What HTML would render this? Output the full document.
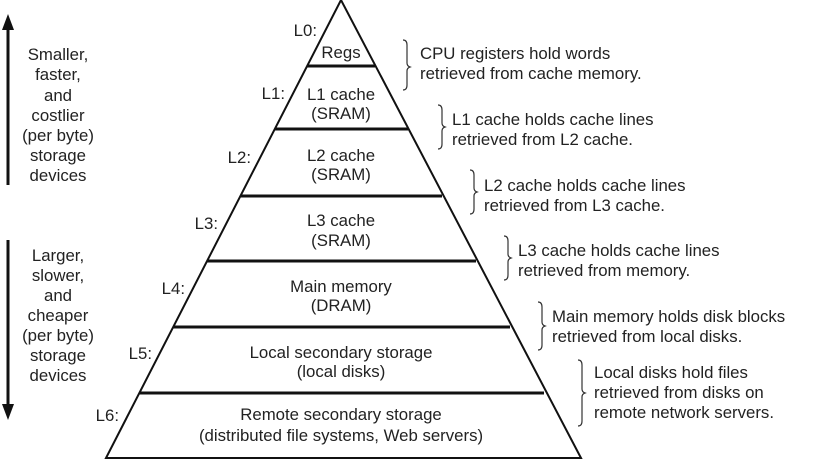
<!DOCTYPE html>
<html><head><meta charset="utf-8"><style>
html,body{margin:0;padding:0;background:#fff;}
svg{display:block;font-family:"Liberation Sans","Noto Sans CJK SC",sans-serif;}
text{font-size:16.8px;fill:#222;}
</style></head><body>
<svg width="816" height="464" viewBox="0 0 816 464" xmlns="http://www.w3.org/2000/svg">
<g stroke="#111" fill="none">
<path d="M341,0 L106,458 L581,458 Z" stroke-width="2" stroke-linejoin="miter"/>
<g stroke-width="3">
<line x1="307" y1="66" x2="375" y2="66"/>
<line x1="275" y1="129" x2="408" y2="129"/>
<line x1="240" y1="196" x2="442" y2="196"/>
<line x1="207" y1="261" x2="476" y2="261"/>
<line x1="173" y1="327" x2="510" y2="327"/>
<line x1="139" y1="393" x2="544" y2="393"/>
</g>
<line x1="8" y1="28" x2="8" y2="185" stroke-width="3"/>
<line x1="8" y1="240" x2="8" y2="405" stroke-width="3"/>
<g stroke-width="1.2" stroke="#333">
<path d="M403,40 q4,0 4,5 v18 q0,3 3,4 q-3,1 -3,4 v14 q0,5 -4,5"/>
<path d="M438,105 q4,0 4,5 v13 q0,3 3,4 q-3,1 -3,4 v13 q0,5 -4,5"/>
<path d="M470,170 q4,0 4,5 v13 q0,3 3,4 q-3,1 -3,4 v13 q0,5 -4,5"/>
<path d="M504,236 q4,0 4,5 v13 q0,3 3,4 q-3,1 -3,4 v13 q0,5 -4,5"/>
<path d="M538,302 q4,0 4,5 v15 q0,3 3,4 q-3,1 -3,4 v15 q0,5 -4,5"/>
<path d="M578,360 q4,0 4,5 v24 q0,3 3,4 q-3,1 -3,4 v24 q0,5 -4,5"/>
</g>
</g>
<polygon points="8,14 2,30 14,30" fill="#111"/>
<polygon points="8,420 2,404 14,404" fill="#111"/>
<g text-anchor="middle">
<text x="58" y="60">Smaller,</text>
<text x="58" y="80">faster,</text>
<text x="58" y="101">and</text>
<text x="58" y="121">costlier</text>
<text x="58" y="141">(per byte)</text>
<text x="58" y="161">storage</text>
<text x="58" y="181">devices</text>
<text x="58" y="261">Larger,</text>
<text x="58" y="281">slower,</text>
<text x="58" y="301">and</text>
<text x="58" y="321">cheaper</text>
<text x="58" y="341">(per byte)</text>
<text x="58" y="361">storage</text>
<text x="58" y="381">devices</text>
<text x="341" y="58">Regs</text>
<text x="341" y="100">L1 cache</text>
<text x="341" y="119">(SRAM)</text>
<text x="341" y="161">L2 cache</text>
<text x="341" y="180">(SRAM)</text>
<text x="341" y="226">L3 cache</text>
<text x="341" y="246">(SRAM)</text>
<text x="341" y="292">Main memory</text>
<text x="341" y="311">(DRAM)</text>
<text x="341" y="358">Local secondary storage</text>
<text x="341" y="377">(local disks)</text>
<text x="341" y="420">Remote secondary storage</text>
<text x="341" y="441">(distributed file systems, Web servers)</text>
</g>
<g text-anchor="end">
<text x="317" y="36">L0:</text>
<text x="285" y="99">L1:</text>
<text x="251" y="163">L2:</text>
<text x="218" y="229">L3:</text>
<text x="185" y="294">L4:</text>
<text x="152" y="359">L5:</text>
<text x="119" y="421">L6:</text>
</g>
<text x="420" y="59">CPU registers hold words</text>
<text x="420" y="79">retrieved from cache memory.</text>
<text x="452" y="125">L1 cache holds cache lines</text>
<text x="452" y="145">retrieved from L2 cache.</text>
<text x="484" y="191">L2 cache holds cache lines</text>
<text x="484" y="211">retrieved from L3 cache.</text>
<text x="518" y="256">L3 cache holds cache lines</text>
<text x="518" y="276">retrieved from memory.</text>
<text x="552" y="322">Main memory holds disk blocks</text>
<text x="552" y="342">retrieved from local disks.</text>
<text x="594" y="378">Local disks hold files</text>
<text x="594" y="398">retrieved from disks on</text>
<text x="594" y="418">remote network servers.</text>
</svg>
</body></html>
